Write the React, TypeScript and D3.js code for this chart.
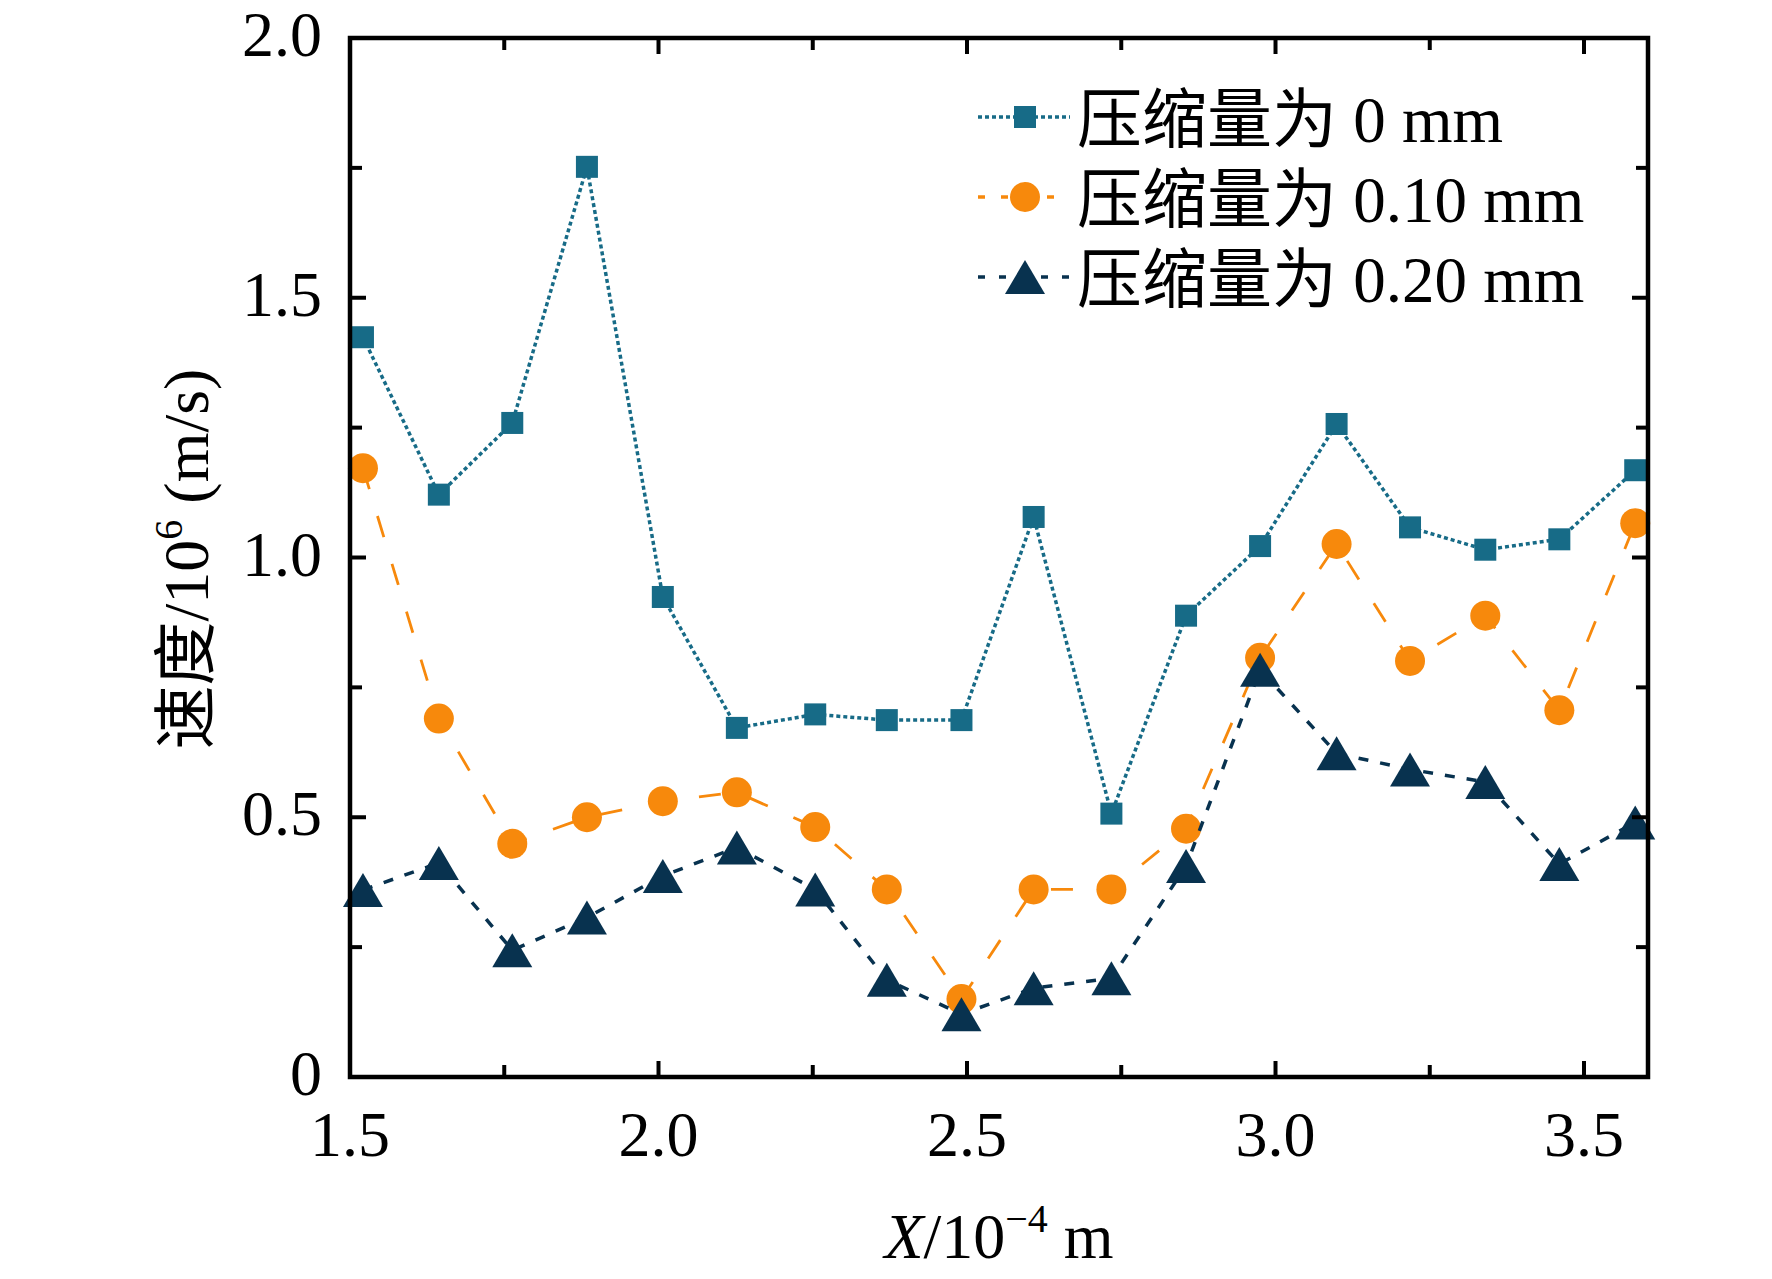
import React from "react";
import * as d3 from "d3";

// ---- data ----
const xValues = [1.521, 1.644, 1.763, 1.884, 2.007, 2.127, 2.254, 2.37, 2.491, 2.608, 2.734, 2.855, 2.975, 3.099, 3.218, 3.34, 3.46, 3.583];
const series0mm = [1.424, 1.121, 1.259, 1.752, 0.924, 0.672, 0.698, 0.687, 0.687, 1.078, 0.507, 0.888, 1.022, 1.257, 1.058, 1.015, 1.035, 1.168];
const series010mm = [1.172, 0.69, 0.449, 0.5, 0.531, 0.548, 0.481, 0.361, 0.15, 0.361, 0.361, 0.478, 0.807, 1.026, 0.801, 0.888, 0.706, 1.066];
const series020mm = [0.36, 0.412, 0.244, 0.307, 0.387, 0.442, 0.361, 0.187, 0.121, 0.171, 0.19, 0.406, 0.784, 0.623, 0.592, 0.568, 0.41, 0.49];
const seriesNames = ["压缩量为 0 mm", "压缩量为 0.10 mm", "压缩量为 0.20 mm"];
const xTicksMajor = [1.5, 2.0, 2.5, 3.0, 3.5];
const xTicksMinor = [1.75, 2.25, 2.75, 3.25];
const yTicksMajor = [0, 0.5, 1.0, 1.5, 2.0];
const yTicksMinor = [0.25, 0.75, 1.25, 1.75];
const xTickLabels = ["1.5", "2.0", "2.5", "3.0", "3.5"];
const yTickLabels = ["0", "0.5", "1.0", "1.5", "2.0"];

const FONT = "'Liberation Serif', 'Times New Roman', 'Noto Sans CJK SC', serif";
const COLORS = ["#176b87", "#f7890c", "#08324f"];
const DASH = ["4,3", "22,28", "10,12"];
const WIDTHS = [3.5, 2.8, 3.5];
const LEGEND_DASH = ["4,3", "7,16", "7,14"];
const SHAPES = ["square", "circle", "triangle"];

const W = 1772;
const H = 1279;
const left = 350, right = 1648, top = 38, bottom = 1077;

function Marker({ shape, cx, cy, color }: { shape: string; cx: number; cy: number; color: string }) {
  if (shape === "square") {
    return <rect x={cx - 11} y={cy - 11} width={22} height={22} fill={color} />;
  }
  if (shape === "circle") {
    return <circle cx={cx} cy={cy} r={15} fill={color} />;
  }
  const w = 40, h = 34;
  const p = `M${cx},${cy - h / 2}L${cx + w / 2},${cy + h / 2}L${cx - w / 2},${cy + h / 2}Z`;
  return <path d={p} fill={color} />;
}

export default function App() {
  const x = d3.scaleLinear().domain([1.5, 3.6037]).range([left, right]);
  const y = d3.scaleLinear().domain([0, 2]).range([bottom, top]);
  const allSeries = [series0mm, series010mm, series020mm];
  const line = d3
    .line<[number, number]>()
    .x((d) => x(d[0]))
    .y((d) => y(d[1]));

  const legendY = [117, 197, 277];

  return (
    <svg
      width={W}
      height={H}
      viewBox={`0 0 ${W} ${H}`}
      style={{ position: "absolute", left: 0, top: 0, background: "#fff" }}
      fontFamily={FONT}
    >
      <rect x={0} y={0} width={W} height={H} fill="#fff" />

      {/* series */}
      {allSeries.map((vals, si) => {
        const pts = vals.map((v, i) => [xValues[i], v] as [number, number]);
        return (
          <g key={si}>
            <path
              d={line(pts) || ""}
              fill="none"
              stroke={COLORS[si]}
              strokeWidth={WIDTHS[si]}
              strokeDasharray={DASH[si]}
            />
            {pts.map((p, i) => (
              <Marker key={i} shape={SHAPES[si]} cx={x(p[0])} cy={y(p[1])} color={COLORS[si]} />
            ))}
          </g>
        );
      })}

      {/* frame */}
      <rect x={left} y={top} width={right - left} height={bottom - top} fill="none" stroke="#000" strokeWidth={4.5} />

      {/* ticks */}
      <g stroke="#000" strokeWidth={4}>
        {xTicksMajor.map((t) => (
          <g key={"xM" + t}>
            <line x1={x(t)} x2={x(t)} y1={bottom} y2={bottom - 16} />
            <line x1={x(t)} x2={x(t)} y1={top} y2={top + 16} />
          </g>
        ))}
        {xTicksMinor.map((t) => (
          <g key={"xm" + t}>
            <line x1={x(t)} x2={x(t)} y1={bottom} y2={bottom - 12} />
            <line x1={x(t)} x2={x(t)} y1={top} y2={top + 12} />
          </g>
        ))}
        {yTicksMajor.map((t) => (
          <g key={"yM" + t}>
            <line x1={left} x2={left + 16} y1={y(t)} y2={y(t)} />
            <line x1={right} x2={right - 16} y1={y(t)} y2={y(t)} />
          </g>
        ))}
        {yTicksMinor.map((t) => (
          <g key={"ym" + t}>
            <line x1={left} x2={left + 12} y1={y(t)} y2={y(t)} />
            <line x1={right} x2={right - 12} y1={y(t)} y2={y(t)} />
          </g>
        ))}
      </g>

      {/* tick labels */}
      <g fontSize={64} fill="#000">
        {xTicksMajor.map((t, i) => (
          <text key={"xl" + t} x={x(t)} y={1156} textAnchor="middle">
            {xTickLabels[i]}
          </text>
        ))}
        {yTicksMajor.map((t, i) => (
          <text key={"yl" + t} x={322} y={y(t) + 18} textAnchor="end">
            {yTickLabels[i]}
          </text>
        ))}
      </g>

      {/* axis titles */}
      <text x={999} y={1258} fontSize={64} textAnchor="middle" fill="#000">
        <tspan fontStyle="italic">X</tspan>
        <tspan>/10</tspan>
        <tspan fontSize={40} dy={-26}>−4</tspan>
        <tspan dy={26}> m</tspan>
      </text>
      <text
        transform="translate(208,559) rotate(-90)"
        fontSize={64}
        textAnchor="middle"
        fill="#000"
      >
        <tspan>速度/10</tspan>
        <tspan fontSize={40} dy={-26}>6</tspan>
        <tspan dy={26}> (m/s)</tspan>
      </text>

      {/* legend */}
      {seriesNames.map((name, i) => (
        <g key={"lg" + i}>
          <line
            x1={978}
            x2={1070}
            y1={legendY[i]}
            y2={legendY[i]}
            stroke={COLORS[i]}
            strokeWidth={3.5}
            strokeDasharray={LEGEND_DASH[i]}
          />
          <Marker shape={SHAPES[i]} cx={1025} cy={legendY[i]} color={COLORS[i]} />
          <text x={1077} y={legendY[i] + 25} fontSize={65} fill="#000">
            {name}
          </text>
        </g>
      ))}
    </svg>
  );
}
